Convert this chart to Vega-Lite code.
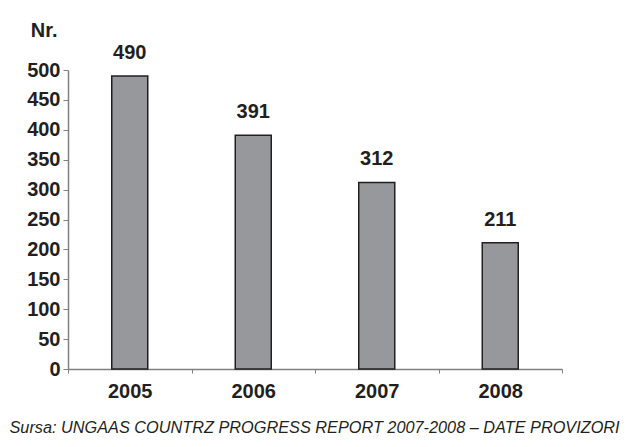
{
  "$schema": "https://vega.github.io/schema/vega-lite/v6.json",
  "autosize": {"type": "none"},
  "width": 494,
  "height": 299,
  "padding": {"left": 68, "top": 70, "right": 64, "bottom": 78},
  "background": "white",
  "config": {
    "font": "Liberation Sans",
    "view": {"stroke": null},
    "axis": {"grid": false, "domainColor": "#808080", "tickColor": "#808080", "labelColor": "#231f20", "titleColor": "#231f20", "labelFont": "Liberation Sans", "titleFont": "Liberation Sans"}
  },
  "data": {
    "values": [
      {"year": "2005", "value": 490},
      {"year": "2006", "value": 391},
      {"year": "2007", "value": 312},
      {"year": "2008", "value": 211}
    ]
  },
  "encoding": {
    "x": {
      "field": "year", "type": "nominal", "sort": null,
      "scale": {"paddingInner": 0, "paddingOuter": 0},
      "axis": {
        "title": "Sursa: UNGAAS COUNTRZ PROGRESS REPORT 2007-2008 – DATE PROVIZORI",
        "titleFontStyle": "italic", "titleFontWeight": "normal", "titleFontSize": 16.3,
        "titleX": -59, "titleY": 66, "titleAlign": "left", "titleAnchor": "start", "titleBaseline": "bottom",
        "labelAngle": 0, "labelFontSize": 20, "labelFontWeight": "bold", "labelPadding": 8,
        "tickBand": "extent", "tickSize": 4, "domainWidth": 1.5
      }
    },
    "y": {
      "field": "value", "type": "quantitative",
      "scale": {"domain": [0, 500], "nice": false},
      "axis": {
        "values": [0, 50, 100, 150, 200, 250, 300, 350, 400, 450, 500],
        "title": "Nr.", "titleAngle": 0, "titleFontSize": 20, "titleFontWeight": "bold",
        "titleX": -11, "titleY": -40, "titleAlign": "right", "titleBaseline": "middle",
        "labelFontSize": 20, "labelFontWeight": "bold", "labelPadding": 3, "tickSize": 5, "domainWidth": 1.5
      }
    }
  },
  "layer": [
    {"mark": {"type": "bar", "size": 36, "fill": "#97989b", "stroke": "#231f20", "strokeWidth": 1.5}},
    {"mark": {"type": "text", "baseline": "bottom", "dy": -13, "fontSize": 20, "fontWeight": "bold", "color": "#231f20", "font": "Liberation Sans"},
     "encoding": {"text": {"field": "value", "type": "quantitative"}}}
  ]
}
